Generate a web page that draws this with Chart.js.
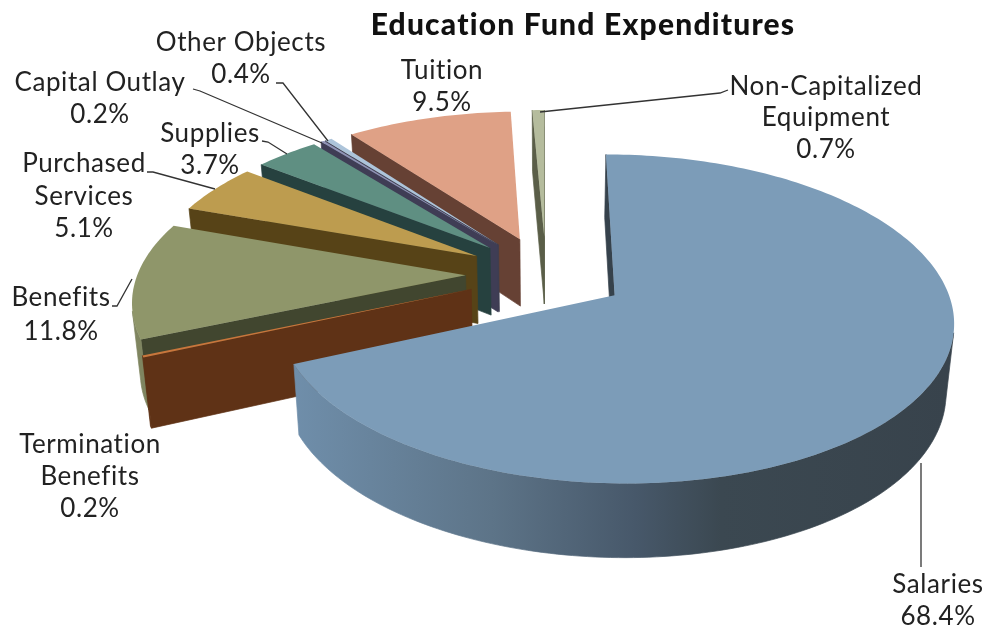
<!DOCTYPE html>
<html>
<head>
<meta charset="utf-8">
<title>Education Fund Expenditures</title>
<script src="https://cdn.jsdelivr.net/npm/chart.js@4"></script>
<style>
  html, body { margin: 0; padding: 0; background: #fff; }
  #wrap { width: 988px; height: 626px; }
</style>
</head>
<body>
<div id="wrap"><canvas id="pie"></canvas></div>
<script>
  const categories = ["Salaries", "Termination Benefits", "Benefits", "Purchased Services", "Supplies", "Capital Outlay", "Other Objects", "Tuition", "Non-Capitalized Equipment"];
  const shares = [68.4, 0.2, 11.8, 5.1, 3.7, 0.2, 0.4, 9.5, 0.7];

  const topColors = ["#7c9cb8", "#c8763c", "#8f966a", "#bd9c4f", "#5f8f82", "#8f93b5", "#adc4da", "#dfa186", "#b5bc9d"];
  const wallColors = ["#36424c", "#5f3216", "#41462f", "#574317", "#26413f", "#3f3d55", "#3d3d50", "#664134", "#5a5e48"];
  const rimColors = [null, "#5f3216", "#7f8560", "#574317", "#26413f", "#3f3d55", "#3d3d50", "#664134", "#5a5e48"];
  const salariesWallStops = [[0, "#6f8eaa"], [0.3, "#5d7488"], [0.52, "#47586a"], [0.65, "#3b4851"], [1, "#38434c"]];

  // label block centre, line centres, whether the name wraps, and its leader line
  const labelLayout = [
    { x: 938, ys: [585, 617], wrap: false, leader: [[921, 567], [921, 463]] },
    { x: 90, ys: [445, 477, 509], wrap: true },
    { x: 61, ys: [298, 332], wrap: false, leader: [[112, 306], [117, 306], [132, 279]] },
    { x: 84, ys: [164, 197, 229], wrap: true, leader: [[147, 172], [153, 172], [215, 189]] },
    { x: 210, ys: [134, 166], wrap: false, leader: [[262, 141], [268, 142], [287, 154]] },
    { x: 100, ys: [83, 115], wrap: false, leader: [[193, 89], [200, 91], [322, 143]] },
    { x: 241, ys: [43, 75], wrap: false, leader: [[276, 83], [283, 83], [328, 141]] },
    { x: 442, ys: [71, 103], wrap: false },
    { x: 826, ys: [87, 118, 150], wrap: true, leader: [[728, 90], [720, 93], [540, 112]] },
  ];

  // tilted view of the disc: unit-radius coordinates go through this projection
  const PIE_X = 546, PIE_Y = 274;
  const SCALE_X = 328, SCALE_Y = 155, PERSPECTIVE = 0.142;
  const DEPTH = 68, FOOT_INSET = 0.98, EXPLODE = 0.245;

  function project(x, y, lower) {
    const w = 1 - PERSPECTIVE * y;
    const sx = SCALE_X * x / w;
    return {
      x: PIE_X + (lower ? sx * FOOT_INSET : sx),
      y: PIE_Y + SCALE_Y * y / w + (lower ? DEPTH * (1 + 0.08 * y) : 0),
    };
  }

  function tracePath(ctx, points) {
    ctx.beginPath();
    points.forEach((p, k) => (k ? ctx.lineTo(p.x, p.y) : ctx.moveTo(p.x, p.y)));
    ctx.closePath();
  }

  class Arc3d extends Chart.ArcElement {
    static id = "arc3d";

    outline() {
      const mid = (this.startAngle + this.endAngle) / 2;
      const ox = EXPLODE * Math.cos(mid), oy = EXPLODE * Math.sin(mid);
      const pts = [[ox, oy]];
      const steps = Math.max(2, Math.ceil((this.endAngle - this.startAngle) / 0.02));
      for (let i = 0; i <= steps; i++) {
        const a = this.startAngle + (this.endAngle - this.startAngle) * i / steps;
        pts.push([ox + Math.cos(a), oy + Math.sin(a)]);
      }
      return pts;
    }

    // true when the side face under this edge turns towards the viewer
    faces(a, b) {
      const quad = [project(a[0], a[1]), project(b[0], b[1]), project(b[0], b[1], true), project(a[0], a[1], true)];
      let area = 0;
      quad.forEach((p, k) => {
        const o = quad[(k + 1) % 4];
        area += p.x * o.y - o.x * p.y;
      });
      return area < 0;
    }

    paint(ctx, points, fill) {
      ctx.fillStyle = fill;
      ctx.strokeStyle = fill;
      tracePath(ctx, points);
      ctx.fill();
      ctx.stroke();
    }

    draw(ctx, index) {
      const pts = this.outline();
      const n = pts.length;
      ctx.save();
      ctx.lineWidth = 0.7;
      ctx.lineJoin = "round";

      // the two cut faces
      [[pts[0], pts[1]], [pts[n - 1], pts[0]]].forEach(([a, b]) => {
        if (!this.faces(a, b)) return;
        this.paint(ctx, [project(a[0], a[1]), project(b[0], b[1]), project(b[0], b[1], true), project(a[0], a[1], true)], wallColors[index]);
      });

      // the curved rim, merged so the shading has no seams
      let rimFill = rimColors[index];
      if (rimFill === null) {
        rimFill = ctx.createLinearGradient(295, 0, 950, 0);
        salariesWallStops.forEach(([t, c]) => rimFill.addColorStop(t, c));
      }
      let run = [];
      const flush = () => {
        if (run.length > 1) {
          const upper = run.map((p) => project(p[0], p[1]));
          const lower = run.map((p) => project(p[0], p[1], true)).reverse();
          this.paint(ctx, upper.concat(lower), rimFill);
        }
        run = [];
      };
      for (let i = 1; i < n - 1; i++) {
        if (this.faces(pts[i], pts[i + 1])) {
          if (!run.length) run.push(pts[i]);
          run.push(pts[i + 1]);
        } else {
          flush();
        }
      }
      flush();

      // top face
      ctx.fillStyle = this.options.backgroundColor;
      tracePath(ctx, pts.map((pt) => project(pt[0], pt[1])));
      ctx.fill();
      ctx.restore();
    }
  }

  class Pie3dController extends Chart.DoughnutController {
    static id = "pie3d";
    static defaults = { dataElementType: "arc3d" };
    static overrides = Chart.DoughnutController.overrides;

    // far slices first, the big front slice goes on last
    draw() {
      const els = this.getMeta().data;
      for (let i = els.length - 1; i >= 0; i--) els[i].draw(this.chart.ctx, i);
    }
  }
  Chart.register(Arc3d, Pie3dController);

  const sliceLabels = {
    id: "sliceLabels",
    beforeDraw(chart) {
      chart.ctx.letterSpacing = "1.2px";
    },
    afterDraw(chart) {
      const ctx = chart.ctx;
      ctx.save();
      ctx.font = "26px Lato, sans-serif";
      ctx.letterSpacing = "0.6px";
      ctx.fillStyle = "#222";
      ctx.textAlign = "center";
      ctx.textBaseline = "middle";
      ctx.strokeStyle = "#333";
      ctx.lineWidth = 1.3;
      categories.forEach((name, i) => {
        const box = labelLayout[i];
        const lines = (box.wrap ? name.split(" ") : [name]).concat(shares[i].toFixed(1) + "%");
        lines.forEach((t, k) => ctx.fillText(t, box.x, box.ys[k]));
        if (box.leader) {
          ctx.beginPath();
          box.leader.forEach(([x, y], k) => (k ? ctx.lineTo(x, y) : ctx.moveTo(x, y)));
          ctx.stroke();
        }
      });
      ctx.restore();
    },
  };

  new Chart(document.getElementById("pie"), {
    type: "pie3d",
    data: {
      labels: categories,
      datasets: [{ data: shares, backgroundColor: topColors, borderWidth: 0 }],
    },
    options: {
      responsive: true,
      maintainAspectRatio: false,
      animation: false,
      layout: { padding: { left: 178 } },
      plugins: {
        legend: { display: false },
        tooltip: { enabled: false },
        title: {
          display: true,
          text: "Education Fund Expenditures",
          color: "#111",
          font: { family: "Lato, sans-serif", size: 30, weight: "900" },
          padding: { top: 7, bottom: 8 },
        },
      },
    },
    plugins: [sliceLabels],
  });
</script>
</body>
</html>
